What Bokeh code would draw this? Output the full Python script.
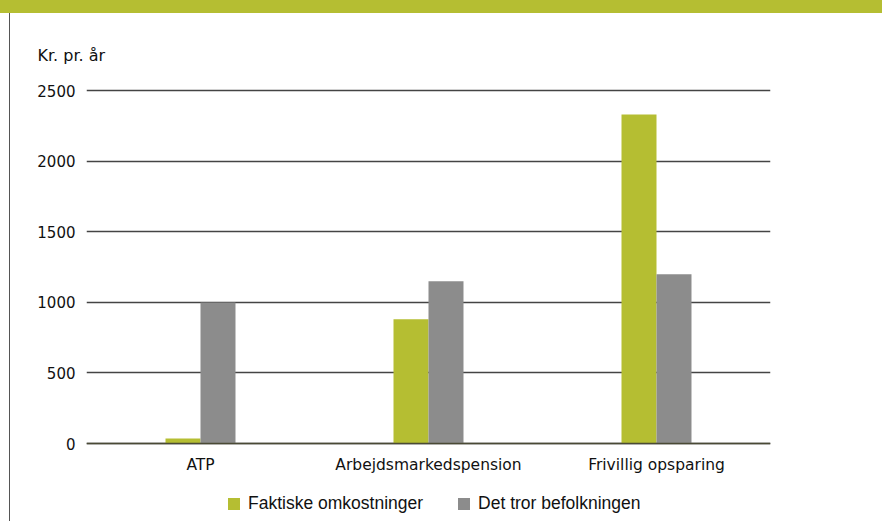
from bokeh.plotting import figure
from bokeh.models import ColumnDataSource, FactorRange, Range1d, FixedTicker, Legend, LegendItem, Div
from bokeh.transform import dodge
from bokeh.layouts import column, row
from bokeh.embed import file_html
from bokeh.resources import INLINE

categories = ["ATP", "Arbejdsmarkedspension", "Frivillig opsparing"]
faktiske = [35, 880, 2330]
befolkning = [1000, 1150, 1200]
y_ticks = [0, 500, 1000, 1500, 2000, 2500]
series_names = ["Faktiske omkostninger", "Det tror befolkningen"]

GREEN = "#b5be32"
GRAY = "#8c8c8c"

src = ColumnDataSource(dict(cat=categories, f=faktiske, b=befolkning))

p = figure(width=872, height=508, x_range=FactorRange(*categories),
           y_range=Range1d(-545, 2600), output_backend="svg", toolbar_location=None,
           min_border_left=76, min_border_right=112, min_border_top=63, min_border_bottom=1)

bw = 0.1535
r1 = p.vbar(x=dodge("cat", -bw / 2, range=p.x_range), top="f", width=bw, source=src,
            fill_color=GREEN, line_color=None)
r2 = p.vbar(x=dodge("cat", bw / 2, range=p.x_range), top="b", width=bw, source=src,
            fill_color=GRAY, line_color=None)

p.outline_line_color = None
p.xgrid.grid_line_color = None
p.ygrid.grid_line_color = "#444444"
p.ygrid.grid_line_width = 1.3
p.ygrid.ticker = FixedTicker(ticks=y_ticks)

p.yaxis.ticker = FixedTicker(ticks=y_ticks)
p.yaxis.axis_line_color = None
p.yaxis.major_tick_line_color = None
p.yaxis.minor_tick_line_color = None
p.yaxis.major_tick_out = 0
p.yaxis.major_tick_in = 0
p.yaxis.major_label_standoff = 11
p.yaxis.major_label_text_font = "DejaVu Sans"
p.yaxis.major_label_text_font_size = "15px"
p.yaxis.major_label_text_color = "#111111"

p.xaxis.fixed_location = 0
p.xaxis.axis_line_color = "#4a4a35"
p.xaxis.axis_line_width = 1.5
p.xaxis.major_tick_line_color = None
p.xaxis.minor_tick_line_color = None
p.xaxis.major_tick_out = 0
p.xaxis.major_tick_in = 0
p.xaxis.major_label_standoff = 12
p.xaxis.major_label_text_font = "DejaVu Sans"
p.xaxis.major_label_text_font_size = "15.5px"
p.xaxis.major_label_text_color = "#111111"

p.title.text = "Kr. pr. år"
p.title.text_font = "DejaVu Sans"
p.title.text_font_size = "16px"
p.title.text_font_style = "normal"
p.title.text_color = "#111111"
p.title.align = "left"
p.title.offset = -49
p.title.standoff = 24

legend = Legend(items=[LegendItem(label=series_names[0], renderers=[r1]),
                       LegendItem(label=series_names[1], renderers=[r2])],
                orientation="horizontal", location=(140, 6),
                label_text_font="Liberation Sans", label_text_font_size="17.5px",
                label_text_color="#111111", glyph_width=15, glyph_height=15,
                label_standoff=7, spacing=33, border_line_color=None,
                background_fill_alpha=0, padding=0, margin=0)
p.add_layout(legend, "center")

band = Div(width=882, height=13, margin=0, styles={"background-color": GREEN})
spacer = Div(width=9, height=508, margin=0)
edge = Div(width=1, height=508, margin=0, styles={"background-color": "#555555"})
layout = column(band, row(spacer, edge, p, spacing=0), spacing=0)

open("out.html", "w").write(file_html(layout, INLINE))
